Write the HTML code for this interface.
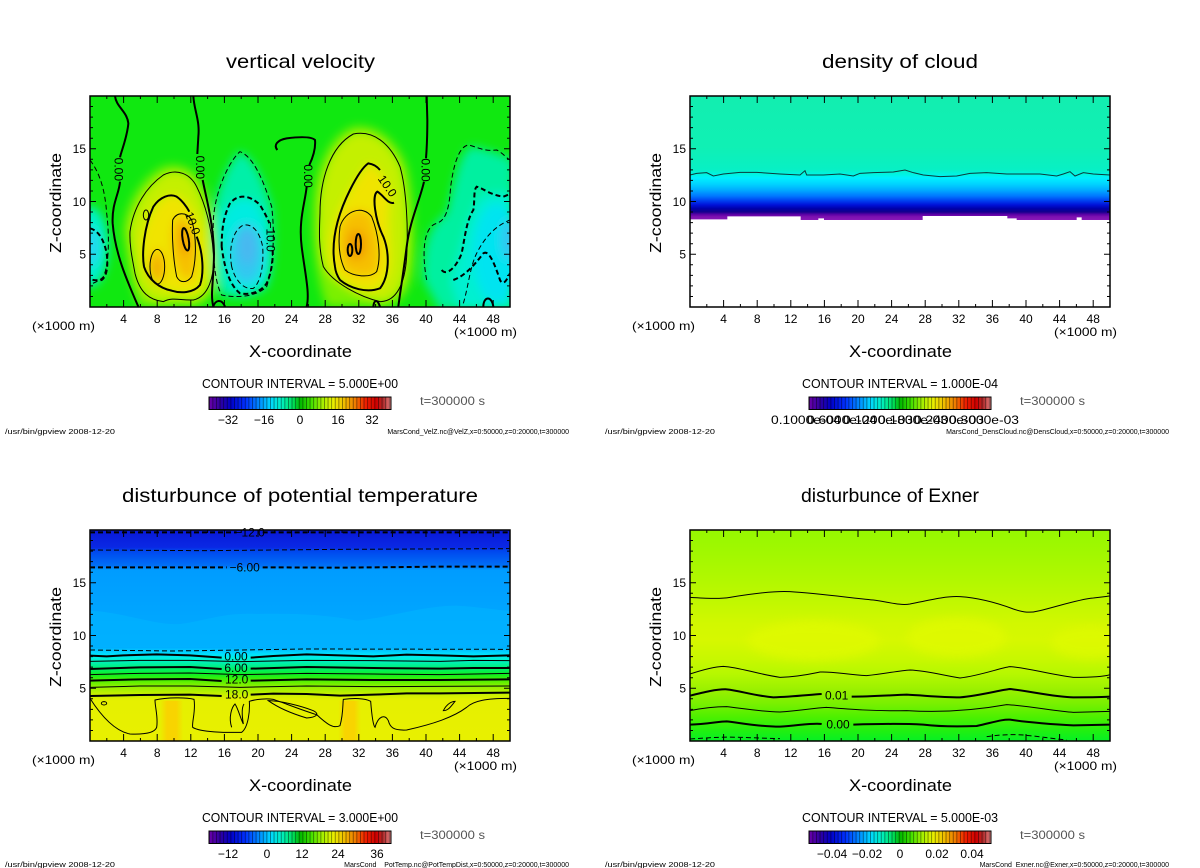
<!DOCTYPE html>
<html><head><meta charset="utf-8"><style>
html,body{margin:0;padding:0;background:#fff;}
svg{display:block;}
text{font-family:"Liberation Sans",sans-serif;fill:#000;}
</style></head><body>
<svg width="1200" height="868" viewBox="0 0 1200 868" xmlns="http://www.w3.org/2000/svg">
<defs>
<clipPath id="cp" clipPathUnits="userSpaceOnUse"><rect x="150" y="48" width="1260" height="632"/></clipPath>
<filter id="bl" filterUnits="userSpaceOnUse" x="0" y="0" width="1600" height="800"><feGaussianBlur stdDeviation="14"/></filter>
<linearGradient id="cb" x1="0" y1="0" x2="1" y2="0">
<stop offset="0" stop-color="#6a00a8"/><stop offset="0.06" stop-color="#3000a0"/><stop offset="0.12" stop-color="#0000c8"/>
<stop offset="0.2" stop-color="#0030ff"/><stop offset="0.28" stop-color="#0090ff"/><stop offset="0.34" stop-color="#00d8ff"/>
<stop offset="0.4" stop-color="#00f0c0"/><stop offset="0.46" stop-color="#00e060"/><stop offset="0.5" stop-color="#00b800"/>
<stop offset="0.56" stop-color="#40e000"/><stop offset="0.62" stop-color="#a0f000"/><stop offset="0.68" stop-color="#e8f000"/>
<stop offset="0.74" stop-color="#f0c000"/><stop offset="0.8" stop-color="#f08000"/><stop offset="0.86" stop-color="#f02000"/>
<stop offset="0.92" stop-color="#d00000"/><stop offset="0.96" stop-color="#b03030"/><stop offset="1" stop-color="#f08888"/>
</linearGradient>
<pattern id="st" width="3.6" height="20" patternUnits="userSpaceOnUse"><rect width="0.9" height="20" fill="#000" opacity="0.45"/></pattern>
<linearGradient id="gs" x1="0" y1="0" x2="1" y2="0">
<stop offset="0" stop-color="#f8d400" stop-opacity="0"/><stop offset="0.3" stop-color="#f8d400"/><stop offset="0.7" stop-color="#f8d400"/><stop offset="1" stop-color="#f8d400" stop-opacity="0"/>
</linearGradient>
<linearGradient id="g2" gradientUnits="userSpaceOnUse" x1="0" y1="48" x2="0" y2="420">
<stop offset="0" stop-color="#12eeb0"/><stop offset="0.409" stop-color="#10f0b4"/><stop offset="0.591" stop-color="#08f0c4"/>
<stop offset="0.634" stop-color="#00f4e4"/><stop offset="0.661" stop-color="#00f0ff"/><stop offset="0.71" stop-color="#00d4ff"/>
<stop offset="0.758" stop-color="#00acff"/><stop offset="0.806" stop-color="#0078ff"/><stop offset="0.844" stop-color="#0040f0"/>
<stop offset="0.879" stop-color="#0010d8"/><stop offset="0.909" stop-color="#0000a8"/><stop offset="0.935" stop-color="#14008c"/>
<stop offset="0.954" stop-color="#5800a4"/><stop offset="0.973" stop-color="#7c10b0"/><stop offset="1" stop-color="#8818b8"/>
</linearGradient>
<linearGradient id="g3" gradientUnits="userSpaceOnUse" x1="0" y1="48" x2="0" y2="680">
<stop offset="0" stop-color="#0818d8"/><stop offset="0.082" stop-color="#0a28e4"/><stop offset="0.098" stop-color="#0046ee"/>
<stop offset="0.169" stop-color="#0070f6"/><stop offset="0.19" stop-color="#009cff"/><stop offset="0.557" stop-color="#00acff"/>
<stop offset="0.573" stop-color="#00c8ff"/><stop offset="0.589" stop-color="#00e0ff"/><stop offset="0.608" stop-color="#00f0e0"/>
<stop offset="0.633" stop-color="#00f0a8"/><stop offset="0.66" stop-color="#00f068"/><stop offset="0.687" stop-color="#10f020"/>
<stop offset="0.715" stop-color="#50f000"/><stop offset="0.747" stop-color="#98f000"/><stop offset="0.786" stop-color="#d0f000"/>
<stop offset="0.81" stop-color="#e6f000"/><stop offset="1" stop-color="#e8f000"/>
</linearGradient>
<linearGradient id="g4" gradientUnits="userSpaceOnUse" x1="0" y1="48" x2="0" y2="680">
<stop offset="0" stop-color="#96f800"/><stop offset="0.114" stop-color="#a2f800"/><stop offset="0.241" stop-color="#b2f800"/>
<stop offset="0.335" stop-color="#c0f800"/><stop offset="0.446" stop-color="#d2f800"/><stop offset="0.525" stop-color="#d6f800"/>
<stop offset="0.62" stop-color="#c6f800"/><stop offset="0.684" stop-color="#b6f800"/><stop offset="0.763" stop-color="#98f000"/>
<stop offset="0.826" stop-color="#78f000"/><stop offset="0.889" stop-color="#4cf000"/><stop offset="0.953" stop-color="#20f010"/>
<stop offset="1" stop-color="#06f024"/>
</linearGradient>
<g id="tk" fill="none" stroke="#000" stroke-width="1"><path d="M16.8 211v-3M33.6 211v-7M50.4 211v-3M67.2 211v-7M84 211v-3M100.8 211v-7M117.6 211v-3M134.4 211v-7M151.2 211v-3M168 211v-7M184.8 211v-3M201.6 211v-7M218.4 211v-3M235.2 211v-7M252 211v-3M268.8 211v-7M285.6 211v-3M302.4 211v-7M319.2 211v-3M336 211v-7M352.8 211v-3M369.6 211v-7M386.4 211v-3M403.2 211v-7M16.8 0v3M33.6 0v7M50.4 0v3M67.2 0v7M84 0v3M100.8 0v7M117.6 0v3M134.4 0v7M151.2 0v3M168 0v7M184.8 0v3M201.6 0v7M218.4 0v3M235.2 0v7M252 0v3M268.8 0v7M285.6 0v3M302.4 0v7M319.2 0v3M336 0v7M352.8 0v3M369.6 0v7M386.4 0v3M403.2 0v7M0 200.45h3M0 189.9h3M0 179.35h3M0 168.8h3M0 158.25h6M0 147.7h3M0 137.15h3M0 126.6h3M0 116.05h3M0 105.5h6M0 94.95h3M0 84.4h3M0 73.85h3M0 63.3h3M0 52.75h6M0 42.2h3M0 31.65h3M0 21.1h3M0 10.55h3M420 200.45h-3M420 189.9h-3M420 179.35h-3M420 168.8h-3M420 158.25h-6M420 147.7h-3M420 137.15h-3M420 126.6h-3M420 116.05h-3M420 105.5h-6M420 94.95h-3M420 84.4h-3M420 73.85h-3M420 63.3h-3M420 52.75h-6M420 42.2h-3M420 31.65h-3M420 21.1h-3M420 10.55h-3"/><rect x="0" y="0" width="420" height="211" stroke-width="1.5"/></g>
<g id="cbar"><rect x="209" y="397" width="182" height="12.5" fill="url(#cb)"/><rect x="209" y="397" width="182" height="12.5" fill="url(#st)"/><rect x="209" y="397" width="182" height="12.5" fill="none" stroke="#000" stroke-width="1"/></g>
<g id="xl" font-size="12" text-anchor="middle">
<text x="123.6" y="0">4</text><text x="157.2" y="0">8</text><text x="190.8" y="0">12</text><text x="224.4" y="0">16</text><text x="258" y="0">20</text><text x="291.6" y="0">24</text><text x="325.2" y="0">28</text><text x="358.8" y="0">32</text><text x="392.4" y="0">36</text><text x="426" y="0">40</text><text x="459.6" y="0">44</text><text x="493.2" y="0">48</text>
</g>
<g id="com">
<text transform="translate(61,253) rotate(-90)" font-size="16" textLength="100" lengthAdjust="spacingAndGlyphs">Z-coordinate</text>
<text x="86" y="258.5" text-anchor="end" font-size="12">5</text>
<text x="86" y="205.8" text-anchor="end" font-size="12">10</text>
<text x="86" y="153" text-anchor="end" font-size="12">15</text>
<use href="#xl" x="0" y="323"/>
<text x="32" y="330" font-size="12" textLength="63" lengthAdjust="spacingAndGlyphs">(×1000 m)</text>
<text x="454" y="336" font-size="12" textLength="63" lengthAdjust="spacingAndGlyphs">(×1000 m)</text>
<text x="249" y="357" font-size="17" textLength="103" lengthAdjust="spacingAndGlyphs">X-coordinate</text>
<use href="#cbar"/>
<text x="420" y="405" font-size="12" textLength="65" lengthAdjust="spacingAndGlyphs" style="fill:#555">t=300000 s</text>
<use href="#tk" x="90" y="96"/>
</g>
</defs>

<!-- ============ PANEL A: vertical velocity ============ -->
<g transform="translate(40,80) scale(0.333333)">
<g clip-path="url(#cp)">
<rect x="150" y="48" width="1260" height="632" fill="#10e810"/>
<g filter="url(#bl)">
<path fill="#7af000" d="M250,450 C260,360 310,290 370,260 C420,245 470,270 490,320 C515,380 535,460 540,530 C545,600 520,670 460,680 L300,680 C280,640 262,560 250,450Z"/>
<path fill="#c4f000" d="M270,455 C280,380 320,320 370,285 C410,265 450,280 470,320 C495,370 515,440 520,520 C525,590 505,650 460,660 C420,662 400,650 370,665 C330,660 300,640 285,580 Z"/>
<path fill="#f0e400" d="M305,480 C320,420 350,360 395,345 C430,345 460,390 480,440 C495,500 495,580 480,620 C460,645 420,640 390,630 C350,620 320,590 310,540 Z"/>
<ellipse cx="352" cy="560" rx="24" ry="52" fill="#f6c000"/>
<ellipse cx="432" cy="505" rx="34" ry="95" fill="#f6c000" transform="rotate(-8 432 505)"/>
<ellipse cx="436" cy="480" rx="16" ry="45" fill="#f09c00"/>
<ellipse cx="350" cy="565" rx="12" ry="30" fill="#f0a800"/>
<path fill="#7af000" d="M820,400 C820,280 860,170 940,140 C1010,130 1070,180 1100,260 C1120,340 1125,460 1120,540 C1115,620 1090,680 1020,680 L860,680 C830,600 818,500 820,400Z"/>
<path fill="#c4f000" d="M840,400 C840,300 870,200 940,162 C1000,150 1050,190 1080,260 C1100,330 1105,450 1100,530 C1095,610 1070,665 1020,665 C960,650 880,610 850,560 C835,500 838,450 840,400 Z"/>
<path fill="#f0e400" d="M870,500 C875,420 920,340 985,252 C1020,262 1050,320 1050,360 C1040,420 1050,470 1050,530 C1050,590 1030,630 980,632 C930,625 890,600 875,560 Z"/>
<path fill="#f6c000" d="M900,440 C915,390 970,375 995,410 C1015,460 1025,530 1010,575 C990,595 940,590 915,570 C895,530 895,480 900,440 Z"/>
<ellipse cx="950" cy="495" rx="28" ry="45" fill="#f09c00"/>
<path fill="#00f0a8" d="M520,420 C525,330 570,240 600,215 C640,230 670,300 695,380 C705,460 700,560 680,620 C650,650 590,655 545,645 C520,600 518,500 520,420 Z"/>
<path fill="#00ece0" d="M545,410 C570,360 610,340 650,370 C680,420 700,500 690,580 C675,630 630,645 595,640 C560,610 545,540 545,410 Z"/>
<ellipse cx="620" cy="520" rx="48" ry="90" fill="#30c8f0"/>
<ellipse cx="622" cy="500" rx="26" ry="55" fill="#48b8f0"/>
<ellipse cx="150" cy="500" rx="55" ry="120" fill="#00f0c8"/>
<ellipse cx="150" cy="500" rx="30" ry="60" fill="#20d8f0"/>
<path fill="#00f0a0" d="M1150,600 C1145,500 1170,430 1220,400 C1240,320 1260,200 1300,200 C1350,210 1400,230 1420,240 L1420,690 L1200,690 Z"/>
<path fill="#00f0d0" d="M1230,600 C1260,540 1270,440 1300,390 C1320,330 1360,340 1420,340 L1420,690 L1260,690 Z"/>
<ellipse cx="1370" cy="520" rx="70" ry="150" fill="#00e4f0"/>
<ellipse cx="1405" cy="480" rx="22" ry="60" fill="#30c4f0"/>
</g>
<g fill="none" stroke="#000">
<g stroke-width="6">
<path d="M225,48 C228,80 262,95 265,130 C262,170 245,210 240,232 M240,305 C238,340 215,370 218,430 C225,520 260,600 295,680"/>
<path d="M460,48 C462,90 480,120 475,170 L472,222 M488,300 C500,360 520,430 522,520 C522,600 510,640 520,680"/>
<path d="M712,210 C700,195 712,180 740,175 C780,170 815,170 825,180 C828,210 815,240 808,255 M800,320 C795,370 775,420 785,500 C795,580 810,640 800,680"/>
<path d="M1160,48 L1162,120 C1162,180 1160,210 1158,235 M1152,305 C1140,360 1110,420 1100,500 C1090,580 1080,640 1075,680"/>
<path d="M1330,680 C1330,650 1355,645 1360,680 M1000,680 C1002,660 1012,655 1020,680 M520,680 C525,660 545,655 555,680"/>
<path d="M312,560 C305,520 312,440 340,380 C360,350 390,340 410,350 C425,360 440,380 448,395 M470,470 C490,520 492,580 480,615 C460,640 420,640 395,632 C360,625 325,600 312,560"/>
<ellipse cx="437" cy="478" rx="9" ry="34" transform="rotate(-10 437 478)"/>
<path d="M885,560 C870,480 895,400 930,330 C950,290 970,260 985,250 C1000,252 1012,260 1020,270 M1062,368 C1045,375 1030,345 1012,335 C995,345 1005,420 1030,470 C1050,520 1048,590 1020,625 C980,640 930,625 900,600 C890,585 886,572 885,560"/>
<ellipse cx="930" cy="510" rx="7" ry="18"/>
<ellipse cx="955" cy="492" rx="8" ry="30"/>
</g>
<g stroke-width="3">
<path d="M270,455 C280,380 320,320 370,285 C410,265 450,280 470,320 C495,370 515,440 520,520 C525,590 505,650 460,660 C420,662 400,650 370,665 C330,660 300,640 285,580 C278,540 268,500 270,455Z"/>
<ellipse cx="352" cy="560" rx="22" ry="52"/>
<path d="M398,420 C410,395 440,395 455,420 C470,470 470,540 455,590 C440,610 420,610 410,590 C400,540 395,470 398,420Z"/>
<ellipse cx="318" cy="405" rx="8" ry="15"/>
<path d="M840,400 C840,300 870,200 940,162 C1000,150 1050,190 1080,260 C1100,330 1105,450 1100,530 C1095,610 1070,665 1020,665 C960,650 880,610 850,560 C835,500 838,450 840,400 Z"/>
<path d="M900,440 C915,390 970,375 995,410 C1015,460 1025,530 1010,575 C990,595 940,590 915,570 C895,530 895,480 900,440 Z"/>
</g>
<g stroke-width="3" stroke-dasharray="15 9">
<path d="M520,420 C525,330 570,240 600,215 C640,230 670,300 695,380 C705,460 700,560 680,620 C650,650 590,655 545,645 C520,600 518,500 520,420 Z"/>
<path d="M150,240 C180,280 195,330 200,400 C210,480 205,560 190,590 C175,605 160,610 150,612"/>
<path d="M1160,600 C1145,520 1150,440 1190,430 C1220,420 1228,380 1232,320 C1240,260 1255,200 1285,195 C1310,200 1330,215 1370,210 C1390,220 1400,235 1410,240"/>
<path d="M1270,670 C1285,620 1290,560 1310,520 C1330,480 1360,440 1410,420"/>
<path d="M575,560 C565,500 580,450 610,435 C640,430 660,460 668,500 C672,560 660,610 640,625 C610,630 585,600 575,560Z"/>
</g>
<g stroke-width="6" stroke-dasharray="15 9">
<path d="M545,500 C545,450 550,410 570,370 C590,345 625,340 660,375 C675,400 685,420 688,430 M698,510 C700,550 690,590 680,610 C660,640 625,645 600,640 C575,620 555,580 545,500"/>
<path d="M150,445 C170,450 190,470 200,520 C205,560 200,590 185,600 C170,602 160,600 150,598"/>
<path d="M1205,570 C1220,590 1250,560 1265,520 C1275,470 1280,420 1300,390 C1305,360 1300,330 1310,320 C1330,325 1350,345 1390,350 L1410,342"/>
<path d="M1240,600 C1270,590 1300,560 1330,520 C1345,510 1360,540 1380,600 C1390,620 1400,600 1410,580"/>
</g>
</g>
<g font-size="36" text-anchor="middle">
<text transform="translate(236,268) rotate(90)" dy="12">0.00</text>
<text transform="translate(480,262) rotate(90)" dy="12">0.00</text>
<text transform="translate(804,288) rotate(90)" dy="12">0.00</text>
<text transform="translate(1156,270) rotate(90)" dy="12">0.00</text>
<text transform="translate(458,430) rotate(70)" dy="12">10.0</text>
<text transform="translate(692,470) rotate(90)" dy="12">−10.0</text>
<text transform="translate(1042,318) rotate(55)" dy="12">10.0</text>
</g>
</g>
</g>
<use href="#com"/>
<text x="226" y="68" font-size="19" textLength="149" lengthAdjust="spacingAndGlyphs">vertical velocity</text>
<text x="202" y="388" font-size="13" textLength="196" lengthAdjust="spacingAndGlyphs">CONTOUR INTERVAL = 5.000E+00</text>
<g font-size="12" text-anchor="middle"><text x="228" y="424">−32</text><text x="264" y="424">−16</text><text x="300" y="424">0</text><text x="338" y="424">16</text><text x="372" y="424">32</text></g>
<text x="5" y="434" font-size="7" textLength="110" lengthAdjust="spacingAndGlyphs">/usr/bin/gpview  2008-12-20</text>
<text x="569" y="434" font-size="7" text-anchor="end">MarsCond_VelZ.nc@VelZ,x=0:50000,z=0:20000,t=300000</text>

<!-- ============ PANEL B: density of cloud ============ -->
<g transform="translate(640,80) scale(0.333333)">
<g clip-path="url(#cp)">
<rect x="150" y="48" width="1260" height="632" fill="url(#g2)"/>
<path fill="#fff" d="M150,418 H262 V409 H482 V420 H535 V415 H552 V420 H848 V408 H1102 V415 H1130 V420 H1310 V412 H1325 V420 H1410 V690 H140 Z"/>
<path fill="none" stroke="#0a3a3a" stroke-width="3" d="M150,285 L170,280 L200,278 L220,288 L250,282 L300,277 L350,277 L420,282 L480,285 L495,272 L500,285 L550,285 L600,282 L640,288 L660,280 L700,278 L760,276 L795,270 L820,278 L850,285 L900,290 L950,288 L990,280 L1040,278 L1100,282 L1200,282 L1250,288 L1270,282 L1290,275 L1305,288 L1330,278 L1360,282 L1410,285"/>
</g>
</g>
<use href="#com" x="600"/>
<text x="822" y="68" font-size="19" textLength="156" lengthAdjust="spacingAndGlyphs">density of cloud</text>
<text x="802" y="388" font-size="13" textLength="196" lengthAdjust="spacingAndGlyphs">CONTOUR INTERVAL = 1.000E-04</text>
<g font-size="12" text-anchor="middle">
<text x="806" y="424" textLength="70" lengthAdjust="spacingAndGlyphs">0.1000e-04</text>
<text x="842" y="424" textLength="70" lengthAdjust="spacingAndGlyphs">0.6000e-04</text>
<text x="878" y="424" textLength="70" lengthAdjust="spacingAndGlyphs">0.1200e-03</text>
<text x="913" y="424" textLength="70" lengthAdjust="spacingAndGlyphs">0.1800e-03</text>
<text x="949" y="424" textLength="70" lengthAdjust="spacingAndGlyphs">0.2400e-03</text>
<text x="984" y="424" textLength="70" lengthAdjust="spacingAndGlyphs">0.3000e-03</text>
</g>
<text x="605" y="434" font-size="7" textLength="110" lengthAdjust="spacingAndGlyphs">/usr/bin/gpview  2008-12-20</text>
<text x="1169" y="434" font-size="7" text-anchor="end">MarsCond_DensCloud.nc@DensCloud,x=0:50000,z=0:20000,t=300000</text>

<!-- ============ PANEL C: potential temperature ============ -->
<g transform="translate(40,514) scale(0.333333)">
<g clip-path="url(#cp)">
<rect x="150" y="48" width="1260" height="632" fill="url(#g3)"/>
<path fill="#00b4ff" opacity="0.6" d="M150,290 C250,295 350,335 420,330 C500,320 550,295 650,300 C750,298 850,300 950,320 C1050,310 1150,275 1250,275 C1330,280 1380,290 1410,290 L1410,400 L150,400 Z"/>
<rect x="360" y="560" width="70" height="125" fill="url(#gs)"/>
<rect x="895" y="560" width="68" height="125" fill="url(#gs)"/>
</g>
<g fill="none" stroke="#000">
<path stroke-width="6" stroke-dasharray="15 9" d="M150,55 L590,55 M668,55 L1410,55"/>
<path stroke-width="6" stroke-dasharray="15 9" d="M150,160 L560,160 M668,160 L900,161 L1200,158 L1410,158"/>
<path stroke-width="3" stroke-dasharray="15 9" d="M150,108 L500,110 L900,106 L1410,104"/>
<path stroke-width="3" stroke-dasharray="15 9" d="M150,408 L400,411 L800,405 L1410,406"/>
<path stroke-width="6" d="M150,425 L200,427 L250,424 L350,421 L450,424 L545,431 M632,431 L700,426 L800,421 L900,424 L1000,427 L1100,422 L1200,424 L1300,427 L1410,424"/>
<path stroke-width="6" d="M150,465 L300,460 L450,459 L545,465 M632,464 L800,459 L1000,462 L1200,464 L1300,462 L1410,462"/>
<path stroke-width="6" d="M150,500 L300,496 L450,495 L545,501 M632,500 L800,496 L1000,498 L1200,498 L1410,496"/>
<path stroke-width="6" d="M150,546 L300,543 L450,542 L545,546 M632,542 L700,539 L800,540 L900,545 L1000,542 L1100,538 L1200,538 L1410,536"/>
<path stroke-width="3" d="M150,442 L300,439 L450,439 L600,443 L800,439 L1000,440 L1200,442 L1300,439 L1410,440"/>
<path stroke-width="3" d="M150,482 L300,478 L450,477 L600,482 L800,478 L1000,480 L1200,482 L1410,478"/>
<path stroke-width="3" d="M150,520 L300,516 L450,516 L600,520 L800,516 L1000,518 L1410,516"/>
<path stroke-width="3" d="M150,553 C180,600 220,650 270,660 C320,662 345,655 350,640 C355,610 345,580 345,558 C380,550 440,550 462,556 C468,590 455,625 458,640 C480,655 560,656 605,655 C625,640 630,590 628,562 C650,555 680,553 700,556 C740,570 790,590 830,602 C860,630 880,645 900,635 C910,600 908,570 910,556 C940,552 975,552 992,562 C995,600 1000,635 1005,640 C1015,605 1035,600 1045,620 C1050,640 1060,650 1100,648 C1180,630 1240,610 1280,580 C1300,560 1340,553 1410,553"/>
<path stroke-width="3" d="M575,640 C565,610 575,580 585,570 C595,585 600,610 610,630 C605,600 605,580 612,570"/>
<path stroke-width="3" d="M685,560 C720,560 780,575 820,590 C840,600 830,610 800,612 C760,600 720,585 685,560 Z"/>
<path stroke-width="3" d="M1210,590 C1220,570 1235,562 1245,562 C1235,575 1225,590 1210,590 Z"/>
<ellipse stroke-width="3" cx="192" cy="568" rx="8" ry="5"/>
</g>
<g font-size="36" text-anchor="middle">
<text x="629" y="67">−12.0</text>
<text x="614" y="172">−6.00</text>
<text x="588" y="440">0.00</text>
<text x="588" y="474">6.00</text>
<text x="590" y="509">12.0</text>
<text x="590" y="553">18.0</text>
</g>
</g>
<use href="#com" y="434"/>
<text x="122" y="502" font-size="19" textLength="356" lengthAdjust="spacingAndGlyphs">disturbunce of potential temperature</text>
<text x="202" y="822" font-size="13" textLength="196" lengthAdjust="spacingAndGlyphs">CONTOUR INTERVAL = 3.000E+00</text>
<g font-size="12" text-anchor="middle"><text x="228" y="858">−12</text><text x="267" y="858">0</text><text x="302" y="858">12</text><text x="338" y="858">24</text><text x="377" y="858">36</text></g>
<text x="5" y="867" font-size="7" textLength="110" lengthAdjust="spacingAndGlyphs">/usr/bin/gpview  2008-12-20</text>
<text x="569" y="867" font-size="7" text-anchor="end">MarsCond__PotTemp.nc@PotTempDist,x=0:50000,z=0:20000,t=300000</text>

<!-- ============ PANEL D: Exner ============ -->
<g transform="translate(640,514) scale(0.333333)">
<g clip-path="url(#cp)">
<rect x="150" y="48" width="1260" height="632" fill="url(#g4)"/>
<g filter="url(#bl)" opacity="0.7">
<ellipse cx="520" cy="380" rx="200" ry="60" fill="#e2fa00"/>
<ellipse cx="950" cy="370" rx="150" ry="60" fill="#e2fa00"/>
<ellipse cx="1350" cy="385" rx="120" ry="50" fill="#e0fa00"/>
</g>
<g fill="none" stroke="#000">
<g stroke-width="3">
<path d="M150,250 C200,253 240,255 270,250 C330,240 400,230 450,233 C530,238 620,250 700,258 C750,265 780,275 810,270 C860,260 920,245 960,248 C1020,252 1080,270 1120,285 C1150,295 1170,298 1200,290 C1260,275 1320,255 1360,252 C1390,249 1400,247 1410,246"/>
<path d="M150,480 C180,470 220,458 250,457 C300,460 350,480 420,490 C480,488 520,478 540,474 C580,472 620,482 680,485 C740,478 780,470 810,468 C860,470 900,482 960,492 C1020,485 1080,462 1110,458 C1160,460 1220,480 1300,490 C1350,490 1390,488 1410,482"/>
<path d="M150,590 C190,582 230,578 260,578 C300,582 350,592 420,594 C480,590 520,582 560,580 C620,585 700,592 800,590 C900,596 1000,590 1100,572 C1160,575 1250,592 1300,595 L1410,592"/>
</g>
<g stroke-width="6">
<path d="M150,545 C190,535 230,525 260,526 C300,530 340,545 400,550 C460,548 510,542 545,540 M635,548 C680,548 730,545 800,542 C860,545 900,550 960,550 C1020,545 1080,528 1110,525 C1160,530 1250,550 1300,550 C1350,550 1390,550 1410,548"/>
<path d="M150,632 C200,630 240,622 260,622 C300,626 350,638 420,638 C480,634 520,626 545,630 M640,632 C700,630 780,628 850,632 C900,638 960,638 1010,636 C1060,625 1090,615 1110,617 C1160,625 1250,632 1300,634 L1410,632"/>
</g>
<path stroke-width="3" stroke-dasharray="15 9" d="M150,675 C200,672 240,668 300,670 L420,674 M1040,668 C1080,662 1120,660 1160,664 C1200,668 1240,674 1280,678"/>
</g>
<g font-size="36" text-anchor="middle">
<text x="590" y="557">0.01</text>
<text x="594" y="644">0.00</text>
</g>
</g>
</g>
<use href="#com" x="600" y="434"/>
<text x="801" y="502" font-size="19" textLength="178" lengthAdjust="spacingAndGlyphs">disturbunce of Exner</text>
<text x="802" y="822" font-size="13" textLength="196" lengthAdjust="spacingAndGlyphs">CONTOUR INTERVAL = 5.000E-03</text>
<g font-size="12" text-anchor="middle"><text x="832" y="858">−0.04</text><text x="867" y="858">−0.02</text><text x="900" y="858">0</text><text x="937" y="858">0.02</text><text x="972" y="858">0.04</text></g>
<text x="605" y="867" font-size="7" textLength="110" lengthAdjust="spacingAndGlyphs">/usr/bin/gpview  2008-12-20</text>
<text x="1169" y="867" font-size="7" text-anchor="end">MarsCond_Exner.nc@Exner,x=0:50000,z=0:20000,t=300000</text>
</svg>
</body></html>
